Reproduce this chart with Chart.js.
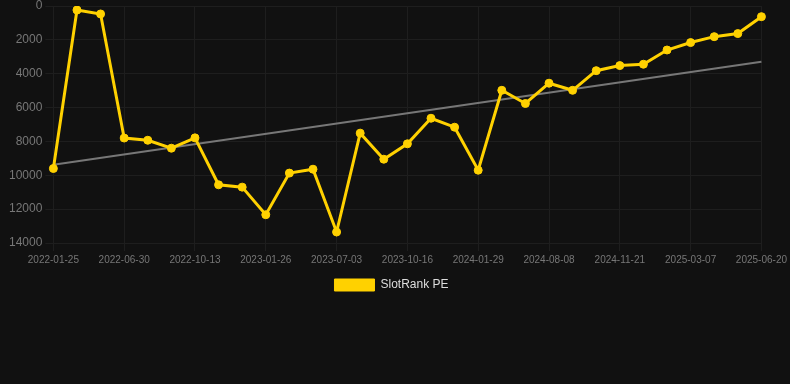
<!DOCTYPE html>
<html>
<head>
<meta charset="utf-8">
<script src="https://cdn.jsdelivr.net/npm/chart.js@4"></script>
<style>
  html, body { margin: 0; padding: 0; background: #111111; }
  #wrap { position: relative; width: 790px; height: 301px; }
</style>
</head>
<body>
<div id="wrap"><canvas id="c"></canvas></div>
<script>
const dates = [
  "2022-01-25", "2022-03-18", "2022-05-09",
  "2022-06-30", "2022-08-04", "2022-09-08",
  "2022-10-13", "2022-11-17", "2022-12-22",
  "2023-01-26", "2023-03-23", "2023-05-18",
  "2023-07-03", "2023-08-07", "2023-09-11",
  "2023-10-16", "2023-11-20", "2023-12-25",
  "2024-01-29", "2024-04-02", "2024-06-05",
  "2024-08-08", "2024-09-12", "2024-10-17",
  "2024-11-21", "2024-12-26", "2025-01-30",
  "2025-03-07", "2025-04-11", "2025-05-16",
  "2025-06-20"
];
const rankPE = [
  9600, 240, 470, 7800, 7930, 8400, 7790, 10560, 10700, 12330,
  9870, 9640, 13350, 7510, 9050, 8140, 6630, 7160, 9700, 4980,
  5760, 4560, 4980, 3820, 3520, 3440, 2600, 2160, 1810, 1630,
  630
];
const trendValues = [9380, 3290];
const yTicks = [0, 2000, 4000, 6000, 8000, 10000, 12000, 14000];
const seriesName = "SlotRank PE";

const trendData = [
  { x: dates[0], y: trendValues[0] },
  { x: dates[dates.length - 1], y: trendValues[1] }
];

const FONT = 'Liberation Sans, Arial, sans-serif';

const legendShift = {
  id: 'legendShift',
  afterLayout(chart) {
    if (chart.legend) {
      chart.legend.left -= 5;
      chart.legend.right -= 5;
    }
  }
};

new Chart(document.getElementById('c'), {
  type: 'line',
  data: {
    labels: dates,
    datasets: [
      {
        label: seriesName,
        data: rankPE,
        borderColor: '#FFD100',
        backgroundColor: '#FFD100',
        borderWidth: 3,
        pointRadius: 4,
        pointBorderWidth: 1,
        pointHoverRadius: 4,
        pointBackgroundColor: '#FFD100',
        pointBorderColor: '#FFD100',
        tension: 0,
        order: 1
      },
      {
        label: 'trend',
        data: trendData,
        borderColor: '#777777',
        borderWidth: 2,
        pointRadius: 0,
        tension: 0,
        order: 2
      }
    ]
  },
  plugins: [legendShift],
  options: {
    responsive: true,
    maintainAspectRatio: false,
    animation: false,
    layout: { padding: { left: 6, right: 3, top: 0, bottom: 0 } },
    plugins: {
      legend: {
        position: 'bottom',
        labels: {
          color: '#dddddd',
          font: { family: FONT, size: 12 },
          boxWidth: 40,
          boxHeight: 12,
          filter: (item) => item.text === seriesName,
          generateLabels: (chart) => {
            const items = Chart.defaults.plugins.legend.labels.generateLabels(chart);
            items.forEach(it => { it.lineWidth = 1; });
            return items;
          }
        }
      },
      tooltip: { enabled: false }
    },
    scales: {
      x: {
        type: 'category',
        grid: { color: '#1e1e1e', drawTicks: true, tickLength: 8 },
        border: { color: '#1e1e1e' },
        afterBuildTicks: (axis) => {
          axis.ticks = axis.ticks.filter((t, i) => i % 3 === 0);
        },
        ticks: {
          color: '#777777',
          font: { family: FONT, size: 10 },
          autoSkip: false,
          maxRotation: 0,
          minRotation: 0,
          callback: function (value) {
            return this.getLabelForValue(value);
          }
        }
      },
      y: {
        reverse: true,
        min: yTicks[0],
        max: yTicks[yTicks.length - 1],
        grid: { color: '#1e1e1e', tickLength: 8 },
        border: { color: '#1e1e1e' },
        afterBuildTicks: (axis) => { axis.ticks = yTicks.map(v => ({ value: v })); },
        ticks: {
          color: '#777777',
          font: { family: FONT, size: 12, lineHeight: 0.5 },
          callback: (value) => String(value)
        }
      }
    }
  }
});
</script>
</body>
</html>
